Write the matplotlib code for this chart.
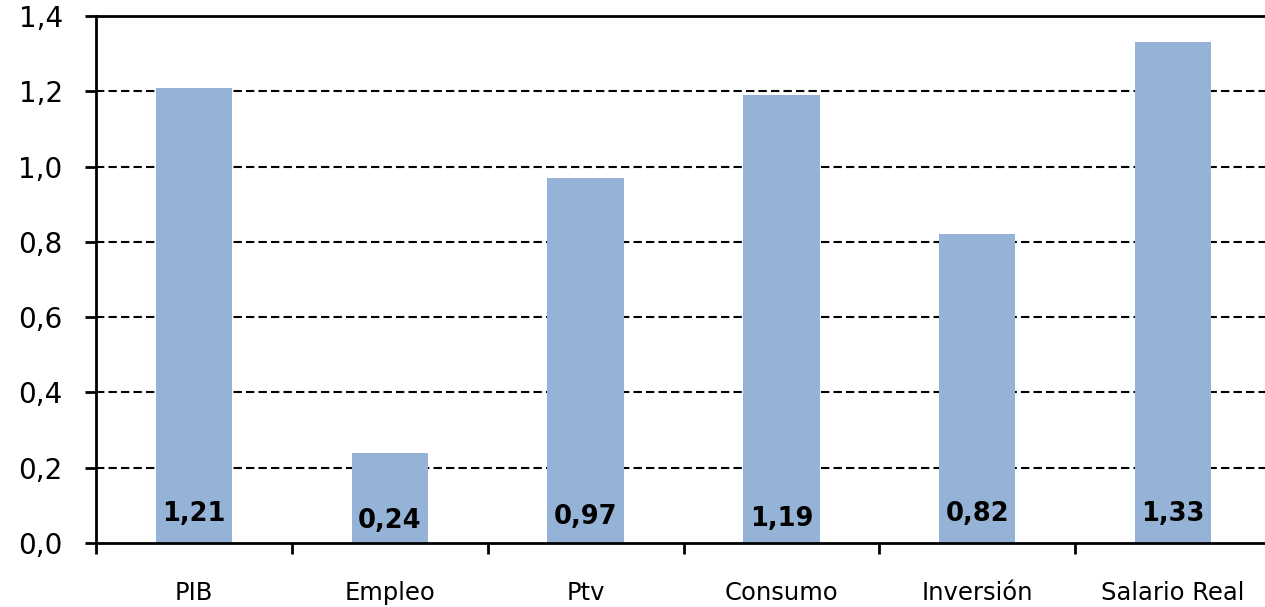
import matplotlib
matplotlib.use("Agg")
import matplotlib.pyplot as plt
import numpy as np

categorias = ['PIB', 'Empleo', 'Ptv', 'Consumo', 'Inversión', 'Salario Real']
valores = [1.21, 0.24, 0.97, 1.19, 0.82, 1.33]
etiquetas = ['1,21', '0,24', '0,97', '1,19', '0,82', '1,33']
y_ticks = [0.0, 0.2, 0.4, 0.6, 0.8, 1.0, 1.2, 1.4]

# vertical position of the value labels (data units)
label_y = [0.076, 0.058, 0.070, 0.064, 0.076, 0.078]

plt.rcParams['font.family'] = ['DejaVu Sans']

fig = plt.figure(figsize=(12.65, 6.07), dpi=100)
W, H = 1265, 607
ax = fig.add_axes([96 / W, 1 - 543 / H, (1271 - 96) / W, (543 - 16) / H])

x = np.arange(len(categorias))
ax.bar(x, valores, width=0.39, color='#95b3d7', zorder=3)

for xi, lab, ly in zip(x, etiquetas, label_y):
    ax.text(xi, ly, lab, ha='center', va='center', fontsize=18.5,
            fontweight='bold', color='black', zorder=4)

ax.set_xlim(-0.5, len(categorias) - 0.5)
ax.set_ylim(0, 1.4)

ax.set_yticks(y_ticks)
ax.set_yticklabels([f'{v:.1f}'.replace('.', ',') for v in y_ticks])
for v in y_ticks[1:-1]:
    ax.axhline(v, color='black', lw=1.5, ls=(0, (4, 2)), zorder=2)
ax.axhline(1.4, color='black', lw=2, zorder=2, clip_on=False)

ax.set_xticks(x)
ax.set_xticklabels(categorias, fontsize=17.5)
ax.set_xticks(np.arange(len(categorias) + 1) - 0.5, minor=True)
ax.tick_params(axis='x', which='major', length=0, pad=27.5)
ax.tick_params(axis='x', which='minor', length=8, width=2, direction='out')
ax.tick_params(axis='y', length=8, width=2, direction='out', labelsize=20, pad=16)

for s in ['top', 'right']:
    ax.spines[s].set_visible(False)
for s in ['left', 'bottom']:
    ax.spines[s].set_linewidth(2)
    ax.spines[s].set_zorder(5)

fig.savefig('out.png', dpi=100, facecolor='white')
